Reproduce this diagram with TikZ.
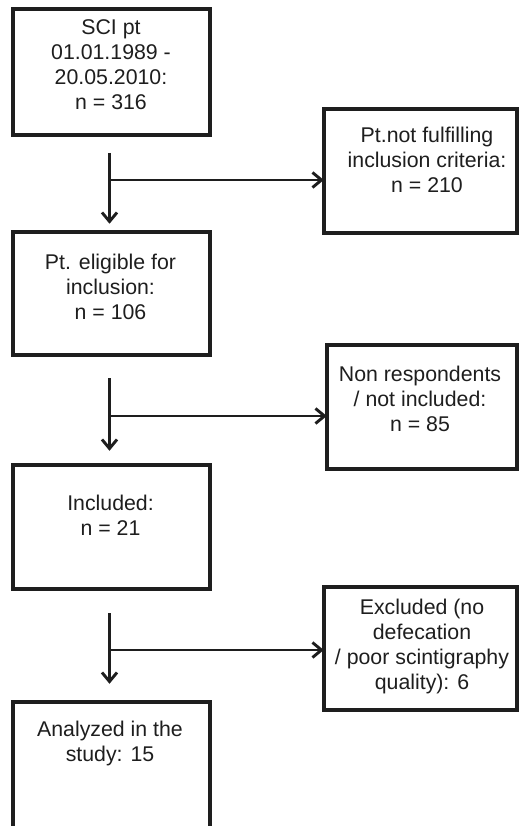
\documentclass[tikz,border=0pt]{standalone}
\usepackage{fontspec}
\setmainfont{Liberation Sans}
\usetikzlibrary{arrows.meta,calc}
\definecolor{ink}{HTML}{1E1E1E}
\begin{document}
\begin{tikzpicture}[x=1pt,y=-1pt,
  box/.style={draw=ink,line width=3.8pt,inner sep=0pt,outer sep=0pt},
  txt/.style={text=ink,align=center,inner sep=0pt,font=\fontsize{21.3}{25}\selectfont},
  arr/.style={draw=ink,line width=2.9pt,-{Straight Barb[length=9pt,width=15pt,line width=2.9pt]}}]
\useasboundingbox (0,0) rectangle (519,826);
\clip (0,0) rectangle (519,826);
\fill[white] (0,0) rectangle (519,826);
% left boxes
\node[box,minimum width=197.5pt,minimum height=126.5pt] (b1) at (111.5,72) {};
\node[box,minimum width=197.5pt,minimum height=123.5pt] (b3) at (111.5,293.5) {};
\node[box,minimum width=197.5pt,minimum height=124.5pt] (b5) at (111.5,527) {};
\node[box,minimum width=197.5pt,minimum height=126.5pt] (b7) at (111.5,765) {};
% right boxes
\node[box,minimum width=193.5pt,minimum height=124.5pt] (b2) at (420.5,171) {};
\node[box,minimum width=190.5pt,minimum height=124.5pt] (b4) at (422,407) {};
\node[box,minimum width=193.5pt,minimum height=123.5pt] (b6) at (420.5,648.5) {};
% texts
\node[txt] (t1) at (111,65) {SCI pt\\01.01.1989 -\\20.05.2010:\\n = 316};
\node[txt] (t2) at (427,160) {Pt.not fulfilling\\inclusion criteria:\\n = 210};
\node[txt] (t3) at (110.5,287) {Pt. eligible for\\inclusion:\\n = 106};
\node[txt] (t4) at (420,398.7) {Non respondents\\/ not included:\\n = 85};
\node[txt] (t5) at (110.5,515.5) {Included:\\n = 21};
\node[txt] (t6) at (422,646.5) {Excluded (no\\defecation\\/ poor scintigraphy\\quality): 6};
\node[txt] (t7) at (110,743.5) {Analyzed in the\\study: 15};
% connector points
\coordinate (s1) at (109.5,153);
\coordinate (j1) at (109.5,180);
\coordinate (s2) at (109.5,378);
\coordinate (j2) at (109.5,416);
\coordinate (s3) at (109.5,613);
\coordinate (j3) at (109.5,650);
% connectors
\draw[arr,shorten >=8pt] (s1) -- (s1 |- b3.north);
\draw[arr] (j1) -- (j1 -| b2.west);
\draw[arr,shorten >=14pt] (s2) -- (s2 |- b5.north);
\draw[arr] (j2) -- (j2 -| b4.west);
\draw[arr,shorten >=18pt] (s3) -- (s3 |- b7.north);
\draw[arr] (j3) -- (j3 -| b6.west);
\end{tikzpicture}
\end{document}
